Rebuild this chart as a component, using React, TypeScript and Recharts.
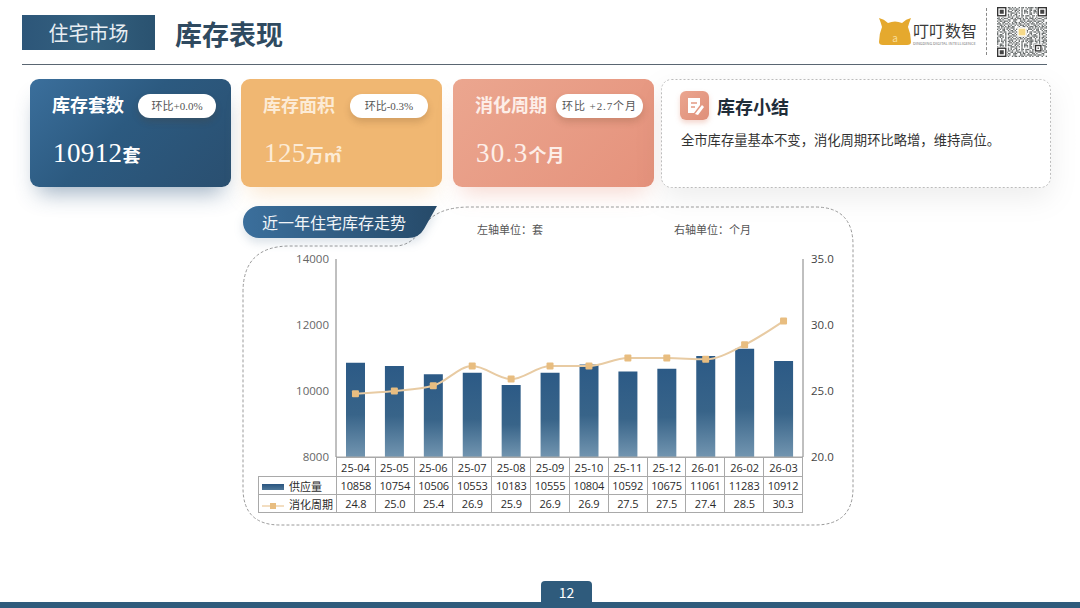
import { Bar, ComposedChart, Line, XAxis, YAxis } from 'recharts';

const months = ['25-04', '25-05', '25-06', '25-07', '25-08', '25-09', '25-10', '25-11', '25-12', '26-01', '26-02', '26-03'];
const supply = [10858, 10754, 10506, 10553, 10183, 10555, 10804, 10592, 10675, 11061, 11283, 10912];
const cycle = [24.8, 25.0, 25.4, 26.9, 25.9, 26.9, 26.9, 27.5, 27.5, 27.4, 28.5, 30.3];
const leftTicks = [8000, 10000, 12000, 14000];
const rightTicks = [20, 25, 30, 35];

const rows = months.map((month, i) => ({ month, supply: supply[i], cycle: cycle[i] }));

const cards = [
  { left: 30, title: '库存套数', badge: '环比+0.0%', value: '10912', unit: '套', bg: 'linear-gradient(135deg,#3b6f9c 0%,#2c5a80 45%,#2a4f70 100%)', shadow: 'rgba(40,80,120,.45)', ink: '#fff', badgeLeft: 108, badgeWidth: 78, badgeSpacing: 0, valueSpacing: 0.4 },
  { left: 241, title: '库存面积', badge: '环比-0.3%', value: '125', unit: '万㎡', bg: '#f0b772', shadow: 'rgba(240,183,114,.35)', ink: '#fcebd6', badgeLeft: 109, badgeWidth: 78, badgeSpacing: 0, valueSpacing: 0.4 },
  { left: 453, title: '消化周期', badge: '环比 +2.7个月', value: '30.3', unit: '个月', bg: 'linear-gradient(135deg,#eba68f 0%,#e5927c 100%)', shadow: 'rgba(228,143,121,.35)', ink: '#fdeee8', badgeLeft: 103, badgeWidth: 87, badgeSpacing: 0.9, valueSpacing: 1.3 },
];

const sans = '"Noto Sans CJK SC", "Noto Sans", sans-serif';
const serif = '"Liberation Serif", "Noto Sans CJK SC", serif';

const qr = [
  '1101101011010100101101011',
  '1000101001101011001000101',
  '1011001010010110101011001',
  '0011101011100101001011101',
  '1010101000111010101010101',
  '1000001010100110001000001',
  '0110111010101010101101110',
  '0100100011010011001001001',
  '1101011100110101110101101',
  '0110100011001110010110010',
  '1011011101001100011010111',
  '0100110010010110101101001',
  '1110101101011010110010110',
  '0011010010100101011101010',
  '1101101011011000100110101',
  '0101010110111001011010011',
  '1010110101001011110001011',
  '0100110010110100100011100',
  '1011011001011011101010101',
  '1000101011100101100011001',
  '1011001010011010111111010',
  '0111101001101101001010110',
  '1010101011010010110101001',
  '1001001010101101011010111',
  '1101011001110010100101101',
];
const qrSize = 37;
const qrFinders = [[0, 0, 7], [30, 0, 7], [0, 30, 7], [28, 28, 5]];

function SquareDot({ cx, cy }: any) {
  return <rect x={cx - 3.5} y={cy - 3.5} width={7} height={7} rx={1} fill="#e8bd80" />;
}

function Card({ c }: any) {
  return (
    <div style={{ position: 'absolute', left: c.left, top: 79, width: 201, height: 108, borderRadius: 9, background: c.bg, boxShadow: `0 14px 22px -8px ${c.shadow}`, color: c.ink }}>
      <div style={{ position: 'absolute', left: 22, top: 12, fontSize: 18, fontWeight: 700, lineHeight: '26px', whiteSpace: 'nowrap' }}>{c.title}</div>
      <div style={{ position: 'absolute', left: c.badgeLeft, top: 15, width: c.badgeWidth, height: 24, borderRadius: 12, background: '#fff', color: '#555', fontSize: 11, lineHeight: '24px', letterSpacing: c.badgeSpacing, textAlign: 'center', whiteSpace: 'nowrap', boxShadow: '0 4px 7px rgba(90,60,30,.2)', fontFamily: serif }}>{c.badge}</div>
      <div style={{ position: 'absolute', left: 23, top: 56, whiteSpace: 'nowrap', lineHeight: '36px' }}>
        <span style={{ fontSize: 27, fontFamily: serif, letterSpacing: c.valueSpacing }}>{c.value}</span>
        <span style={{ fontSize: 18, fontWeight: 700 }}>{c.unit}</span>
      </div>
    </div>
  );
}

const cell: any = { border: '1px solid #a9a9a9', padding: 0, textAlign: 'center', fontSize: 11, color: '#2b2b2b', overflow: 'hidden', whiteSpace: 'nowrap', fontFamily: '"Open Sans", "Noto Sans", sans-serif', letterSpacing: -0.15 };
const nameCell: any = { ...cell, textAlign: 'left', fontFamily: sans, letterSpacing: 0 };

function DataTable() {
  return (
    <table style={{ position: 'absolute', left: 258, top: 457, width: 545, height: 55, borderCollapse: 'collapse', tableLayout: 'fixed' }}>
      <colgroup>
        <col style={{ width: 78 }} />
        {months.map((m) => <col key={m} />)}
      </colgroup>
      <tbody>
        <tr style={{ height: 19 }}>
          <td style={{ border: 'none', borderRight: '1px solid #a9a9a9', borderBottom: '1px solid #a9a9a9' }} />
          {months.map((m) => <td key={m} style={cell} />)}
        </tr>
        <tr style={{ height: 18 }}>
          <td style={nameCell}>
            <span style={{ display: 'inline-block', width: 22, height: 6, margin: '0 5px 1px 3px', verticalAlign: 'middle', background: 'linear-gradient(180deg,#2a5580,#4f7798)' }} />供应量
          </td>
          {supply.map((v, i) => <td key={i} style={cell}>{v}</td>)}
        </tr>
        <tr style={{ height: 18 }}>
          <td style={nameCell}>
            <svg width={24} height={8} style={{ margin: '0 3px 0 3px', verticalAlign: 'middle' }}>
              <line x1={0} y1={4} x2={22} y2={4} stroke="#efd3ad" strokeWidth={1.5} />
              <rect x={8} y={1} width={6} height={6} fill="#e8bd80" />
            </svg>消化周期
          </td>
          {cycle.map((v, i) => <td key={i} style={cell}>{v.toFixed(1)}</td>)}
        </tr>
      </tbody>
    </table>
  );
}

function Logo() {
  return (
    <svg style={{ position: 'absolute', left: 878, top: 16 }} width={34} height={31}>
      <path d="M1 2 Q6 3 10 7 Q17 4 24 7 Q28 3 33 2 Q31 7 30 11 Q33 18 33 26 Q33 29 29 29 L5 29 Q1 29 1 26 Q1 18 4 11 Q3 7 1 2 Z" fill="#e5a92e" />
      <text x={17} y={26} fontSize={10} fill="#f8dc96" textAnchor="middle" fontFamily={sans}>a</text>
    </svg>
  );
}

function QrCode() {
  const cells: any[] = [];
  for (let y = 0; y < qrSize; y++) {
    for (let x = 0; x < qrSize; x++) {
      if (qr[y % 25][x % 25] === '1') cells.push(<rect key={`${x}-${y}`} x={x} y={y} width={1} height={1} fill="#666b6b" />);
    }
  }
  return (
    <svg style={{ position: 'absolute', left: 997, top: 7, filter: 'blur(0.35px)' }} width={50} height={50} viewBox={`0 0 ${qrSize} ${qrSize}`}>
      {cells}
      {qrFinders.map(([x, y, s]) => (
        <g key={`${x}-${y}`}>
          <rect x={x - 0.5} y={y - 0.5} width={s + 1} height={s + 1} fill="#fff" />
          <rect x={x + 0.5} y={y + 0.5} width={s - 1} height={s - 1} fill="none" stroke="#333" />
          <rect x={x + 2} y={y + 2} width={s - 4} height={s - 4} fill="#444" />
        </g>
      ))}
      <rect x={15} y={15} width={7} height={7} fill="#fff" />
      <rect x={16} y={16} width={5} height={5} fill="#f5d989" />
    </svg>
  );
}

export default function App() {
  return (
    <div style={{ position: 'absolute', left: 0, top: 0, width: 1080, height: 608, overflow: 'hidden', background: '#fff', fontFamily: sans }}>
      {/* header */}
      <div style={{ position: 'absolute', left: 22, top: 15, width: 133, height: 35, background: 'linear-gradient(90deg,#2d5679,#34617f 50%,#2a5270)', color: '#e8eef3', fontSize: 20, lineHeight: '35px', textAlign: 'center' }}>住宅市场</div>
      <div style={{ position: 'absolute', left: 175, top: 14, fontSize: 27, fontWeight: 700, lineHeight: '40px', color: '#2f4a60' }}>库存表现</div>
      <div style={{ position: 'absolute', left: 22, top: 64, width: 1025, height: 1, background: '#5a6672' }} />
      <Logo />
      <div style={{ position: 'absolute', left: 913, top: 20, fontSize: 16, lineHeight: '20px', color: '#3a3a3a', whiteSpace: 'nowrap' }}>叮叮数智</div>
      <div style={{ position: 'absolute', left: 913, top: 41, fontSize: 4, lineHeight: '5px', color: '#777', whiteSpace: 'nowrap' }}>DINGDING DIGITAL INTELLIGENCE</div>
      <div style={{ position: 'absolute', left: 986, top: 8, height: 47, borderLeft: '1px dashed #888' }} />
      <QrCode />

      {/* kpi cards */}
      {cards.map((c) => <Card key={c.title} c={c} />)}
      <svg style={{ position: 'absolute', left: 650, top: 70, overflow: 'visible' }} width={410} height={130}>
        <rect x={11.5} y={9.5} width={389} height={108} rx={10} fill="#fff" stroke="#bcbcbc" strokeDasharray="2 2" style={{ filter: 'drop-shadow(0 10px 14px rgba(0,0,0,.07))' }} />
      </svg>
      <div style={{ position: 'absolute', left: 680, top: 91, width: 29, height: 29, borderRadius: 6, background: 'linear-gradient(135deg,#eba58f,#df8f79)', boxShadow: '0 3px 5px rgba(223,143,121,.35)' }}>
        <svg width={29} height={29}>
          <path d="M8 7 H20 V14 L14 22 H8 Z" fill="#fff" />
          <path d="M15 23 L22 14 L24 16 L18 24 Z" fill="#fff" />
          <path d="M11 12 H17 M11 16 H15" stroke="#e39a84" strokeWidth={1.5} />
        </svg>
      </div>
      <div style={{ position: 'absolute', left: 717, top: 93, fontSize: 18, fontWeight: 700, lineHeight: '26px', color: '#1f2d3a', whiteSpace: 'nowrap' }}>库存小结</div>
      <div style={{ position: 'absolute', left: 681, top: 130, fontSize: 13.3, lineHeight: '20px', color: '#333', whiteSpace: 'nowrap' }}>全市库存量基本不变，消化周期环比略增，维持高位。</div>

      {/* chart panel */}
      <svg style={{ position: 'absolute', left: 0, top: 0 }} width={1080} height={608}>
        <path d="M243 292 Q243 246 290 246 H395 Q412 246 424 226 Q436 207 470 207 H815 Q853 207 853 245 V488 Q853 525 815 525 H280 Q243 525 243 488 Z" fill="none" stroke="#9a9a9a" strokeDasharray="3 2" />
        <defs>
          <linearGradient id="pill" x1="0" y1="0" x2="1" y2="0">
            <stop offset="0" stopColor="#3b6f9c" />
            <stop offset="1" stopColor="#264a69" />
          </linearGradient>
        </defs>
        <path d="M259 206 H437 L424 229 Q419 238 408 238 H259 A16 16 0 0 1 259 206 Z" fill="url(#pill)" style={{ filter: 'drop-shadow(0 5px 5px rgba(40,80,120,.16))' }} />
      </svg>
      <div style={{ position: 'absolute', left: 262, top: 210, fontSize: 16, lineHeight: '24px', color: '#f2f5f8', whiteSpace: 'nowrap' }}>近一年住宅库存走势</div>
      <div style={{ position: 'absolute', left: 477, top: 221, fontSize: 11, lineHeight: '16px', color: '#555', whiteSpace: 'nowrap' }}>左轴单位：套</div>
      <div style={{ position: 'absolute', left: 674, top: 221, fontSize: 11, lineHeight: '16px', color: '#555', whiteSpace: 'nowrap' }}>右轴单位：个月</div>

      <DataTable />
      <div style={{ position: 'absolute', left: 0, top: 0 }}>
        <ComposedChart width={1080} height={608} data={rows} margin={{ top: 259, left: 276, right: 217, bottom: 132 }}>
          <defs>
            <linearGradient id="barFill" x1="0" y1="0" x2="0" y2="1">
              <stop offset="0" stopColor="#2c5a86" />
              <stop offset="0.55" stopColor="#386489" />
              <stop offset="1" stopColor="#7295b0" />
            </linearGradient>
          </defs>
          <XAxis dataKey="month" height={19} interval={0} tickLine={false} axisLine={{ stroke: '#a9a9a9' }} tick={{ fontSize: 11, fill: '#2b2b2b', fontFamily: '"Open Sans", sans-serif' }} tickMargin={1} />
          <YAxis yAxisId="left" width={60} domain={[8000, 14000]} ticks={leftTicks} tickLine={false} axisLine={{ stroke: '#808080' }} tick={{ fontSize: 11.5, fill: '#666', fontFamily: '"Open Sans", sans-serif' }} tickMargin={1} />
          <YAxis yAxisId="right" orientation="right" width={60} domain={[20, 35]} ticks={rightTicks} tickFormatter={(v: number) => v.toFixed(1)} tickLine={false} axisLine={{ stroke: '#808080' }} tick={{ fontSize: 11.5, fill: '#444', fontFamily: '"Open Sans", sans-serif' }} tickMargin={2} />
          <Bar yAxisId="left" dataKey="supply" fill="url(#barFill)" barSize={19} isAnimationActive={false} />
          <Line yAxisId="right" dataKey="cycle" type="monotone" stroke="#e8cba3" strokeWidth={2} dot={<SquareDot />} activeDot={false} isAnimationActive={false} />
        </ComposedChart>
      </div>

      {/* footer */}
      <div style={{ position: 'absolute', left: 541, top: 581, width: 51, height: 21, borderRadius: '4px 4px 0 0', background: '#2f5b7c', color: '#fff', fontSize: 14, lineHeight: '22px', textAlign: 'center' }}>12</div>
      <div style={{ position: 'absolute', left: 0, top: 602, width: 1080, height: 6, background: '#2f5b7c' }} />
    </div>
  );
}
